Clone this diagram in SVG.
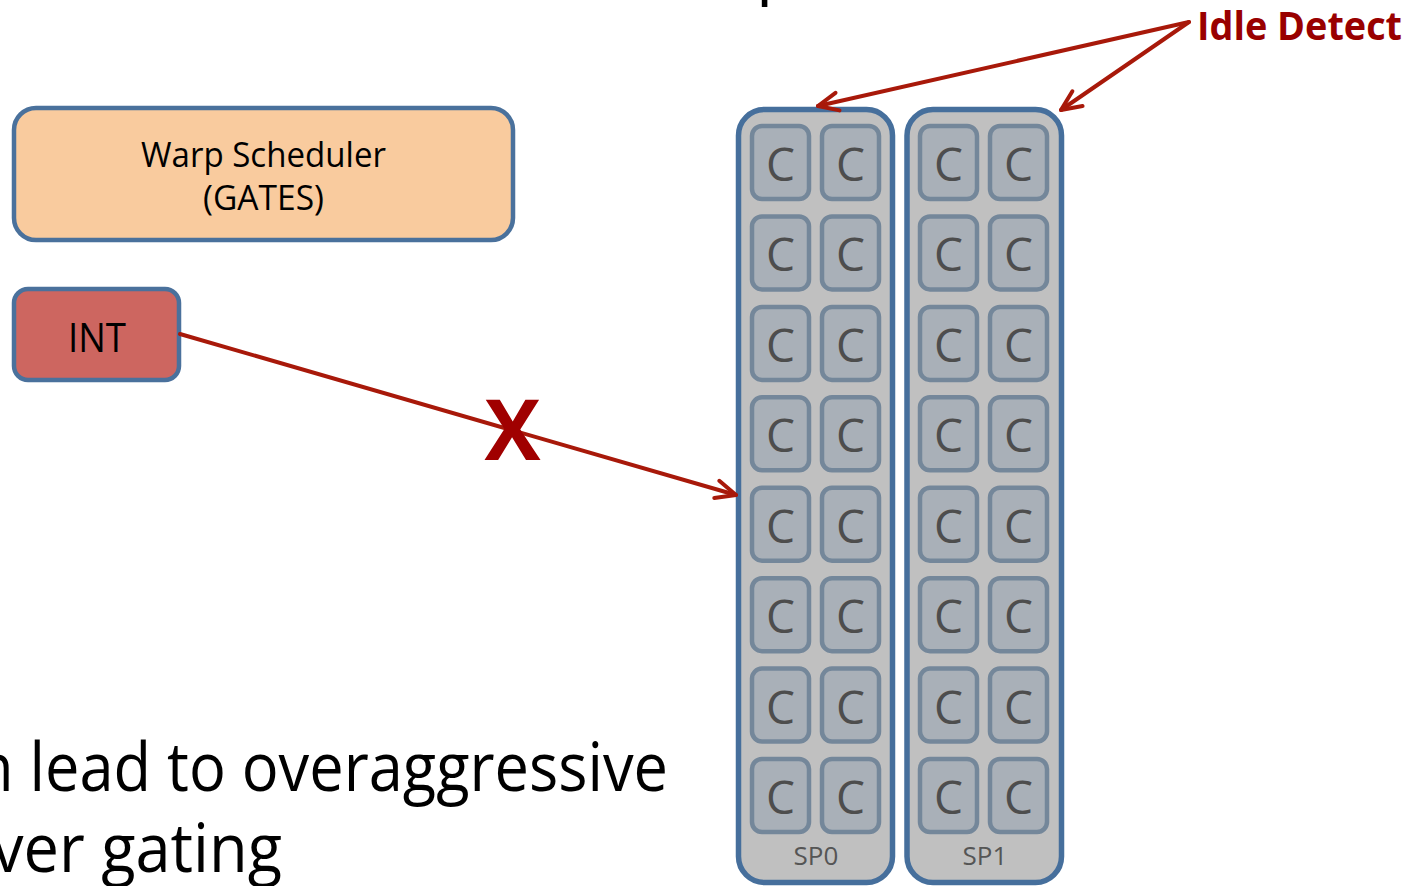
<svg xmlns="http://www.w3.org/2000/svg" xmlns:xlink="http://www.w3.org/1999/xlink" width="1414" height="886" viewBox="0 0 1414 886">
  <style>
    .box { stroke: #4a719c; stroke-width: 4.5; }
    .sp { fill: #c0c0c0; stroke: #466f9c; stroke-width: 5.5; }
    .core { fill: #a9b0b8; stroke: #74879a; stroke-width: 4.5; }
    .cl { font-family: "Open Sans", "Noto Sans", sans-serif; font-size: 46px; fill: #4d4d4d; text-anchor: middle; }
    .lbl { font-family: "Open Sans", "Noto Sans", sans-serif; fill: #000; text-anchor: middle; }
    .splbl { font-family: "Open Sans", "Noto Sans", sans-serif; font-size: 26px; fill: #555; text-anchor: middle; }
    .body { font-family: "Open Sans", "Noto Sans", sans-serif; font-size: 68px; fill: #000; }
    .red { font-family: "Open Sans", "Noto Sans", sans-serif; font-weight: 700; }
    .wire { fill: none; stroke: #a8190a; stroke-width: 4; stroke-linecap: round; }
  </style>
  <defs>
    <g id="core">
      <rect x="0" y="0" width="57" height="73" rx="10" class="core"/>
      <text x="28.5" y="55" class="cl">C</text>
    </g>
    <marker id="ah" markerUnits="userSpaceOnUse" viewBox="-26 -14 30 28" markerWidth="30" markerHeight="28" refX="0" refY="0" orient="auto">
      <path d="M-20,-9 L0,0 L-20,9" fill="none" stroke="#a8190a" stroke-width="4" stroke-linecap="round" stroke-linejoin="round"/>
    </marker>
  </defs>

  <rect width="1414" height="886" fill="#fff"/>

  <!-- title descender peeking in at the top edge -->
  <text x="756" y="-9" class="body" font-size="64">p</text>

  <g id="warp-scheduler">
    <rect x="14" y="108" width="499" height="132" rx="22" fill="#f9cb9e" class="box"/>
    <text x="263.5" y="167" class="lbl" font-size="35" textLength="245" lengthAdjust="spacingAndGlyphs">Warp Scheduler</text>
    <text x="263.5" y="210" class="lbl" font-size="35" textLength="121" lengthAdjust="spacingAndGlyphs">(GATES)</text>
  </g>

  <g id="int">
    <rect x="14" y="289" width="165" height="91" rx="14" fill="#cd6660" class="box"/>
    <text x="97" y="352" class="lbl" font-size="40" textLength="58" lengthAdjust="spacingAndGlyphs">INT</text>
  </g>

  <g id="sp0">
    <rect x="738.5" y="109.5" width="154" height="773" rx="26" class="sp"/>
    <use xlink:href="#core" x="752" y="126"/><use xlink:href="#core" x="822" y="126"/>
    <use xlink:href="#core" x="752" y="216.4"/><use xlink:href="#core" x="822" y="216.4"/>
    <use xlink:href="#core" x="752" y="306.9"/><use xlink:href="#core" x="822" y="306.9"/>
    <use xlink:href="#core" x="752" y="397.3"/><use xlink:href="#core" x="822" y="397.3"/>
    <use xlink:href="#core" x="752" y="487.7"/><use xlink:href="#core" x="822" y="487.7"/>
    <use xlink:href="#core" x="752" y="578.2"/><use xlink:href="#core" x="822" y="578.2"/>
    <use xlink:href="#core" x="752" y="668.6"/><use xlink:href="#core" x="822" y="668.6"/>
    <use xlink:href="#core" x="752" y="759"/><use xlink:href="#core" x="822" y="759"/>
    <text x="816" y="865" class="splbl">SP0</text>
  </g>

  <g id="sp1">
    <rect x="907" y="109.5" width="154.5" height="773" rx="26" class="sp"/>
    <use xlink:href="#core" x="920" y="126"/><use xlink:href="#core" x="990" y="126"/>
    <use xlink:href="#core" x="920" y="216.4"/><use xlink:href="#core" x="990" y="216.4"/>
    <use xlink:href="#core" x="920" y="306.9"/><use xlink:href="#core" x="990" y="306.9"/>
    <use xlink:href="#core" x="920" y="397.3"/><use xlink:href="#core" x="990" y="397.3"/>
    <use xlink:href="#core" x="920" y="487.7"/><use xlink:href="#core" x="990" y="487.7"/>
    <use xlink:href="#core" x="920" y="578.2"/><use xlink:href="#core" x="990" y="578.2"/>
    <use xlink:href="#core" x="920" y="668.6"/><use xlink:href="#core" x="990" y="668.6"/>
    <use xlink:href="#core" x="920" y="759"/><use xlink:href="#core" x="990" y="759"/>
    <text x="985" y="865" class="splbl">SP1</text>
  </g>

  <g id="idle-detect">
    <text x="1197" y="39.5" class="red" font-size="40" fill="#990000" textLength="205" lengthAdjust="spacingAndGlyphs">Idle Detect</text>
  </g>

  <g id="connectors">
    <line x1="180" y1="334" x2="736" y2="495" class="wire" marker-end="url(#ah)"/>
    <line x1="1189" y1="22" x2="818" y2="106" class="wire" marker-end="url(#ah)"/>
    <line x1="1189" y1="22" x2="1061" y2="110" class="wire" marker-end="url(#ah)"/>
  </g>

  <!-- blocked path marker -->
  <text x="512.5" y="460" class="red" font-size="84" fill="#a00000" text-anchor="middle">X</text>

  <text x="-24" y="791" class="body" textLength="692" lengthAdjust="spacingAndGlyphs">n lead to overaggressive</text>
  <text x="-8" y="872" class="body" textLength="290" lengthAdjust="spacingAndGlyphs">ver gating</text>
</svg>
